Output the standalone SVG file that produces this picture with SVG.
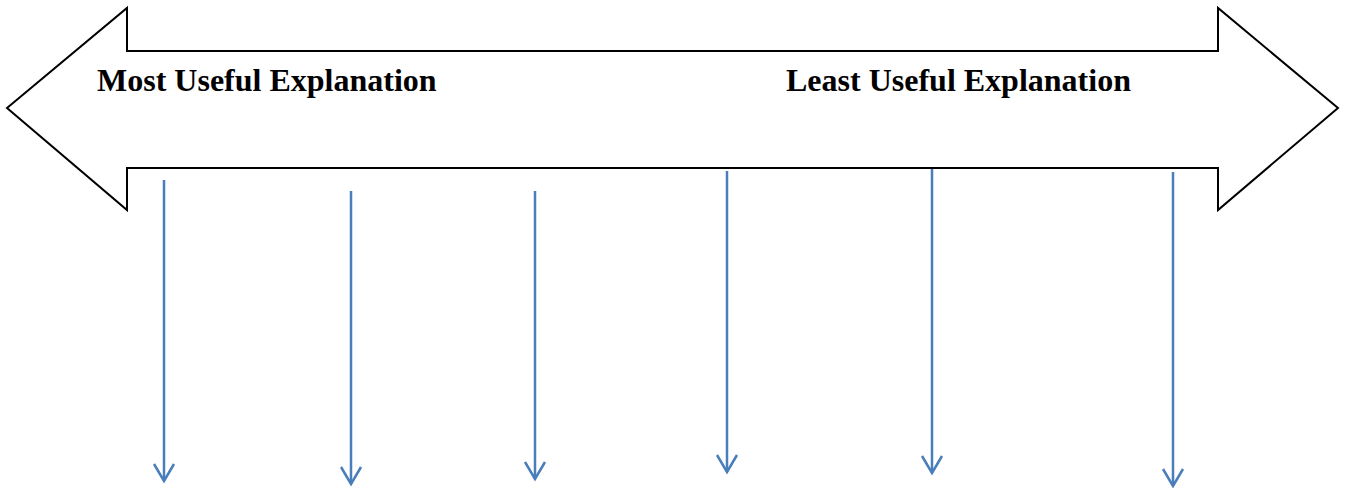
<svg xmlns="http://www.w3.org/2000/svg" width="1348" height="488" viewBox="0 0 1348 488">
<style>
.big{fill:#fff;stroke:#000;stroke-width:2;stroke-linejoin:miter}
.lbl{font-family:"Liberation Serif","Times New Roman",serif;font-weight:bold;font-size:32px;fill:#000}
.con{stroke:#4a7ebb;stroke-width:2.5;fill:none}
</style>
<defs>
<marker id="v" markerUnits="userSpaceOnUse" markerWidth="30" markerHeight="30" refX="15" refY="20" orient="0" viewBox="0 0 30 30">
<path d="M5 3 L15 20 L25 3" fill="none" stroke="#4a7ebb" stroke-width="2.5"/>
</marker>
</defs>
<g id="scale">
<path class="big" d="M7 108 L127 8 L127 51 L1218 51 L1218 8 L1338 108 L1218 210 L1218 168 L127 168 L127 210 Z"/>
</g>
<g id="label-most"><text class="lbl" x="97" y="91">Most Useful Explanation</text></g>
<g id="label-least"><text class="lbl" x="786" y="91">Least Useful Explanation</text></g>
<g id="connectors">
<line class="con" x1="164" y1="180" x2="164" y2="481" marker-end="url(#v)"/>
<line class="con" x1="351" y1="191" x2="351" y2="484" marker-end="url(#v)"/>
<line class="con" x1="535" y1="191" x2="535" y2="479" marker-end="url(#v)"/>
<line class="con" x1="727" y1="171" x2="727" y2="472" marker-end="url(#v)"/>
<line class="con" x1="932" y1="169" x2="932" y2="473" marker-end="url(#v)"/>
<line class="con" x1="1173" y1="172" x2="1173" y2="486" marker-end="url(#v)"/>
</g>
</svg>
